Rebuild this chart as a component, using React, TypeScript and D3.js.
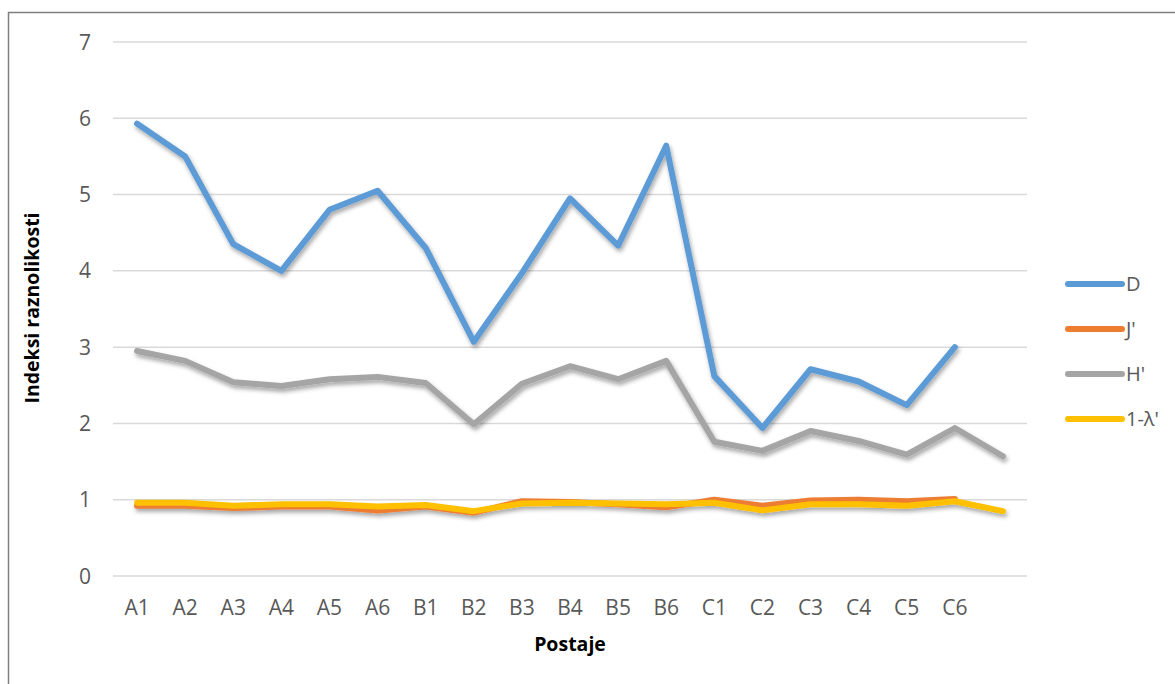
import { useEffect, useRef } from 'react';
import * as d3 from 'd3';

const categories = ['A1', 'A2', 'A3', 'A4', 'A5', 'A6', 'B1', 'B2', 'B3', 'B4', 'B5', 'B6', 'C1', 'C2', 'C3', 'C4', 'C5', 'C6', ''];

const dValues = [5.93, 5.5, 4.35, 4.0, 4.8, 5.05, 4.3, 3.07, 3.97, 4.95, 4.33, 5.64, 2.62, 1.94, 2.71, 2.55, 2.24, 3.0];
const jValues = [0.92, 0.92, 0.89, 0.91, 0.91, 0.86, 0.91, 0.83, 0.98, 0.97, 0.94, 0.9, 1.0, 0.92, 0.99, 1.0, 0.98, 1.01];
const hValues = [2.95, 2.82, 2.54, 2.49, 2.58, 2.61, 2.53, 1.99, 2.52, 2.75, 2.58, 2.82, 1.76, 1.64, 1.9, 1.77, 1.59, 1.94, 1.57];
const lambdaValues = [0.96, 0.96, 0.92, 0.94, 0.94, 0.91, 0.93, 0.85, 0.95, 0.96, 0.95, 0.94, 0.96, 0.86, 0.94, 0.94, 0.92, 0.98, 0.85];

const yTicks = [0, 1, 2, 3, 4, 5, 6, 7];

const series = [
  { name: 'D', color: '#5B9BD5', values: dValues },
  { name: "J'", color: '#ED7D31', values: jValues },
  { name: "H'", color: '#A5A5A5', values: hValues },
  { name: "1-λ'", color: '#FFC000', values: lambdaValues },
];

const W = 1175;
const H = 684;
const font = "'Open Sans', sans-serif";

export default function App() {
  const svgRef = useRef<SVGSVGElement>(null);

  useEffect(() => {
    if (!svgRef.current) return;
    const svg = d3.select(svgRef.current);
    svg.selectAll('*').remove();

    // outer chart frame (cropped on right/bottom)
    svg.append('rect')
      .attr('x', 8.5).attr('y', 12.5)
      .attr('width', W).attr('height', H)
      .attr('fill', 'white')
      .attr('stroke', '#7f7f7f')
      .attr('stroke-width', 1.5);

    const x = d3.scaleBand<string>()
      .domain(categories.map((c, i) => c || `_${i}`))
      .range([113, 1027]);
    const xKey = (i: number) => categories[i] || `_${i}`;
    const xc = (i: number) => (x(xKey(i)) ?? 0) + x.bandwidth() / 2;

    const y = d3.scaleLinear().domain([0, 7]).range([576, 42]);

    const defs = svg.append('defs');
    const filter = defs.append('filter').attr('id', 'shadow')
      .attr('x', '-10%').attr('y', '-10%').attr('width', '120%').attr('height', '130%');
    filter.append('feDropShadow')
      .attr('dx', 1.5).attr('dy', 3).attr('stdDeviation', 2.2)
      .attr('flood-color', '#000').attr('flood-opacity', 0.35);

    // gridlines
    svg.append('g')
      .selectAll('line')
      .data(yTicks)
      .join('line')
      .attr('x1', 113).attr('x2', 1027)
      .attr('y1', d => y(d)).attr('y2', d => y(d))
      .attr('stroke', '#d9d9d9')
      .attr('stroke-width', 1.5);

    // y tick labels
    svg.append('g')
      .selectAll('text')
      .data(yTicks)
      .join('text')
      .attr('x', 91)
      .attr('y', d => y(d))
      .attr('dy', '0.36em')
      .attr('text-anchor', 'end')
      .attr('font-family', font)
      .attr('font-size', 21)
      .attr('fill', '#595959')
      .text(d => d);

    // x tick labels
    svg.append('g')
      .selectAll('text')
      .data(categories)
      .join('text')
      .attr('x', (_, i) => xc(i))
      .attr('y', 615)
      .attr('text-anchor', 'middle')
      .attr('font-family', font)
      .attr('font-size', 21)
      .attr('fill', '#595959')
      .text(d => d);

    // lines
    const line = d3.line<number>()
      .x((_, i) => xc(i))
      .y(d => y(d));

    svg.append('g')
      .attr('filter', 'url(#shadow)')
      .selectAll('path')
      .data(series)
      .join('path')
      .attr('d', s => line(s.values))
      .attr('fill', 'none')
      .attr('stroke', s => s.color)
      .attr('stroke-width', 6)
      .attr('stroke-linejoin', 'round')
      .attr('stroke-linecap', 'round');

    // axis titles
    svg.append('text')
      .attr('transform', 'translate(39,308) rotate(-90)')
      .attr('text-anchor', 'middle')
      .attr('font-family', font)
      .attr('font-size', 19.5)
      .attr('font-weight', 'bold')
      .attr('fill', '#000')
      .text('Indeksi raznolikosti');

    svg.append('text')
      .attr('x', 570)
      .attr('y', 651)
      .attr('text-anchor', 'middle')
      .attr('font-family', font)
      .attr('font-size', 19.5)
      .attr('font-weight', 'bold')
      .attr('fill', '#000')
      .text('Postaje');

    // legend
    const legend = svg.append('g')
      .selectAll('g')
      .data(series)
      .join('g')
      .attr('transform', (_, i) => `translate(1068,${284 + i * 45})`);
    legend.append('line')
      .attr('x1', 0).attr('x2', 54)
      .attr('stroke', s => s.color)
      .attr('stroke-width', 6)
      .attr('stroke-linecap', 'round');
    legend.append('text')
      .attr('x', 58)
      .attr('dy', '0.36em')
      .attr('font-family', font)
      .attr('font-size', 20)
      .attr('fill', '#595959')
      .text(s => s.name);
  }, []);

  return (
    <svg
      ref={svgRef}
      width={W}
      height={H}
      style={{ position: 'absolute', left: 0, top: 0, background: 'white' }}
    />
  );
}
